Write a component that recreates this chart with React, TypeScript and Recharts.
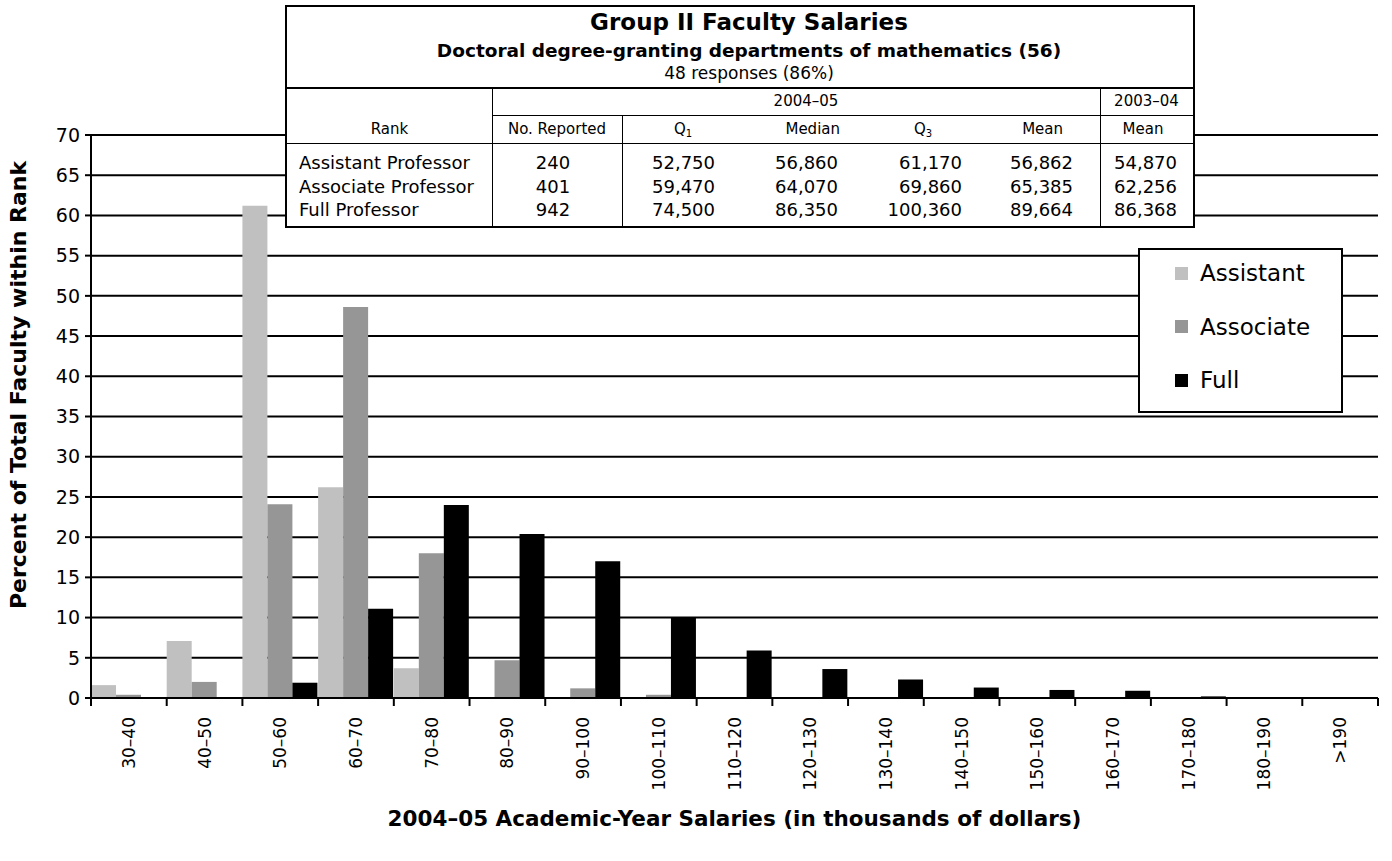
import React from "react";
import { BarChart, Bar, XAxis, YAxis, CartesianGrid, Legend } from "recharts";

// salary ranges, in thousands of dollars
const salaryRanges = [
    "30–40", "40–50", "50–60", "60–70", "70–80", "80–90", "90–100", "100–110",
    "110–120", "120–130", "130–140", "140–150", "150–160", "160–170", "170–180", "180–190", ">190",
];
// percent of faculty within rank
const assistantPct = [1.6, 7.1, 61.2, 26.2, 3.7, 0, 0, 0, 0, 0, 0, 0, 0, 0, 0, 0, 0];
const associatePct = [0.4, 2.0, 24.1, 48.6, 18.0, 4.7, 1.2, 0.4, 0, 0, 0, 0, 0, 0, 0, 0, 0];
const fullPct = [0, 0, 1.9, 11.1, 24.0, 20.4, 17.0, 10.0, 5.9, 3.6, 2.3, 1.3, 1.0, 0.9, 0.2, 0, 0];
const yTicks = [0, 5, 10, 15, 20, 25, 30, 35, 40, 45, 50, 55, 60, 65, 70];

// summary table
const ranks = ["Assistant Professor", "Associate Professor", "Full Professor"];
const numReported = [240, 401, 942];
const q1Salary = [52750, 59470, 74500];
const medianSalary = [56860, 64070, 86350];
const q3Salary = [61170, 69860, 100360];
const meanSalary = [56862, 65385, 89664];
const priorMeanSalary = [54870, 62256, 86368];

const data = salaryRanges.map((range, i) => ({
    range,
    Assistant: assistantPct[i],
    Associate: associatePct[i],
    Full: fullPct[i],
}));

const FONT = '"DejaVu Sans", sans-serif';
const TICK_LEN = 8;
const TICK_GAP = 11;

const fmt = (n: number) => n.toLocaleString("en-US");

// x tick: rotated label + tick marks on the category edges
const RangeTick = (props: any) => {
    const { x, y, payload, index, visibleTicksCount } = props;
    const half = payload.offset ?? 37.85;
    const axisY = y - TICK_LEN - TICK_GAP;
    const isLast = index === visibleTicksCount - 1;
    return (
        <g>
            <line x1={x - half} x2={x - half} y1={axisY} y2={axisY + TICK_LEN} stroke="#000" strokeWidth={2} />
            {isLast && (
                <line x1={x + half} x2={x + half} y1={axisY} y2={axisY + TICK_LEN} stroke="#000" strokeWidth={2} />
            )}
            <text
                x={x}
                y={y}
                transform={`rotate(-90 ${x} ${y})`}
                textAnchor="end"
                dominantBaseline="central"
                fontSize={17}
                fill="#000"
                fontFamily={FONT}
            >
                {payload.value}
            </text>
        </g>
    );
};

const LegendBox = ({ payload }: any) => (
    <div style={{ position: "relative", width: 205, height: 165, boxSizing: "border-box", border: "2px solid #000", background: "#fff" }}>
        {(payload || []).map((entry: any, i: number) => (
            <div key={entry.value} style={{ position: "absolute", left: 0, top: 23 + i * 53.5 - 14, height: 28, display: "flex", alignItems: "center" }}>
                <span style={{ display: "inline-block", width: 13, height: 13, marginLeft: 35, background: entry.color }} />
                <span style={{ marginLeft: 12, fontSize: 23, color: "#000", fontFamily: FONT }}>{entry.value}</span>
            </div>
        ))}
    </div>
);

// text placed in page coordinates inside the table box (inner origin at 287,7)
const Cell = ({ left, width, cy, size = 18, align = "center", bold = false, children }: any) => (
    <div
        style={{
            position: "absolute",
            left: left - 287,
            width,
            top: cy - 7 - 14,
            height: 28,
            lineHeight: "28px",
            textAlign: align,
            fontSize: size,
            fontWeight: bold ? "bold" : "normal",
            whiteSpace: "nowrap",
        }}
    >
        {children}
    </div>
);

const Line = ({ x1, y1, x2, y2, w = 1 }: any) => (
    <div
        style={{
            position: "absolute",
            left: x1 - 287,
            top: y1 - 7,
            width: x2 === x1 ? w : x2 - x1,
            height: y2 === y1 ? w : y2 - y1,
            background: "#000",
        }}
    />
);

const Sub = ({ children }: any) => (
    <span style={{ fontSize: 10, verticalAlign: "-3px" }}>{children}</span>
);

const SummaryTable = () => {
    const rowY = [163, 187, 210];
    return (
        <div
            style={{
                position: "absolute",
                left: 285,
                top: 5,
                width: 910,
                height: 223,
                boxSizing: "border-box",
                border: "2px solid #000",
                background: "#fff",
                fontFamily: FONT,
                color: "#000",
            }}
        >
            <Cell left={287} width={924} cy={22} size={23} bold>Group II Faculty Salaries</Cell>
            <Cell left={287} width={924} cy={51} size={18.5} bold>Doctoral degree-granting departments of mathematics (56)</Cell>
            <Cell left={287} width={924} cy={73} size={17}>48 responses (86%)</Cell>

            <Line x1={287} y1={87} x2={1193} y2={87} w={2} />
            <Line x1={492} y1={115} x2={1193} y2={115} />
            <Line x1={287} y1={143} x2={1193} y2={143} />
            <Line x1={492} y1={88} x2={492} y2={226} />
            <Line x1={622} y1={115} x2={622} y2={226} />
            <Line x1={1100} y1={88} x2={1100} y2={226} />

            <Cell left={706} width={200} cy={101} size={15}>2004–05</Cell>
            <Cell left={1100} width={93} cy={101} size={15}>2003–04</Cell>
            <Cell left={287} width={205} cy={129} size={15}>Rank</Cell>
            <Cell left={492} width={130} cy={129} size={15}>No. Reported</Cell>
            <Cell left={633} width={100} cy={129} size={15}>Q<Sub>1</Sub></Cell>
            <Cell left={740} width={100} cy={129} size={15} align="right">Median</Cell>
            <Cell left={873} width={100} cy={129} size={15}>Q<Sub>3</Sub></Cell>
            <Cell left={963} width={100} cy={129} size={15} align="right">Mean</Cell>
            <Cell left={1100} width={86} cy={129} size={15}>Mean</Cell>

            {ranks.map((rank, i) => (
                <React.Fragment key={rank}>
                    <Cell left={299} width={190} cy={rowY[i]} align="left">{rank}</Cell>
                    <Cell left={492} width={122} cy={rowY[i]}>{numReported[i]}</Cell>
                    <Cell left={615} width={100} cy={rowY[i]} align="right">{fmt(q1Salary[i])}</Cell>
                    <Cell left={738} width={100} cy={rowY[i]} align="right">{fmt(medianSalary[i])}</Cell>
                    <Cell left={862} width={100} cy={rowY[i]} align="right">{fmt(q3Salary[i])}</Cell>
                    <Cell left={973} width={100} cy={rowY[i]} align="right">{fmt(meanSalary[i])}</Cell>
                    <Cell left={1077} width={100} cy={rowY[i]} align="right">{fmt(priorMeanSalary[i])}</Cell>
                </React.Fragment>
            ))}
        </div>
    );
};

const App: React.FC = () => {
    const COLORS = ["#c0c0c0", "#969696", "#000000"];
    return (
        <div style={{ position: "absolute", left: 0, top: 0, width: 1392, height: 861, background: "#fff", fontFamily: FONT }}>
            <BarChart
                width={1392}
                height={861}
                data={data}
                margin={{ top: 135, right: 14, bottom: 0, left: 21 }}
                barCategoryGap={0}
                barGap={0}
            >
                <CartesianGrid vertical={false} stroke="#000" strokeWidth={2} />
                <XAxis
                    dataKey="range"
                    height={163}
                    interval={0}
                    axisLine={{ stroke: "#000", strokeWidth: 2 }}
                    tickLine={{ stroke: "none" }}
                    tickSize={TICK_LEN}
                    tickMargin={TICK_GAP}
                    tick={<RangeTick />}
                    label={{
                        value: "2004–05 Academic-Year Salaries (in thousands of dollars)",
                        position: "insideBottom",
                        offset: 35,
                        fill: "#000",
                        fontSize: 21.5,
                        fontWeight: "bold",
                    }}
                />
                <YAxis
                    width={70}
                    domain={[0, 70]}
                    ticks={yTicks}
                    interval={0}
                    axisLine={{ stroke: "#000", strokeWidth: 2 }}
                    tickLine={{ stroke: "#000", strokeWidth: 2 }}
                    tickSize={6}
                    tickMargin={5}
                    tick={{ fill: "#000", fontSize: 19 }}
                    label={{
                        content: () => (
                            <text
                                x={18}
                                y={385}
                                transform="rotate(-90 18 385)"
                                textAnchor="middle"
                                dominantBaseline="central"
                                fontSize={22}
                                fontWeight="bold"
                                fill="#000"
                                fontFamily={FONT}
                            >
                                Percent of Total Faculty within Rank
                            </text>
                        ),
                    }}
                />
                <Legend
                    layout="vertical"
                    align="center"
                    verticalAlign="middle"
                    content={<LegendBox />}
                    wrapperStyle={{ left: 1138, top: 248, width: 205, height: 165 }}
                />
                <Bar dataKey="Assistant" fill={COLORS[0]} isAnimationActive={false} />
                <Bar dataKey="Associate" fill={COLORS[1]} isAnimationActive={false} />
                <Bar dataKey="Full" fill={COLORS[2]} isAnimationActive={false} />
            </BarChart>
            <SummaryTable />
        </div>
    );
};

export default App;
